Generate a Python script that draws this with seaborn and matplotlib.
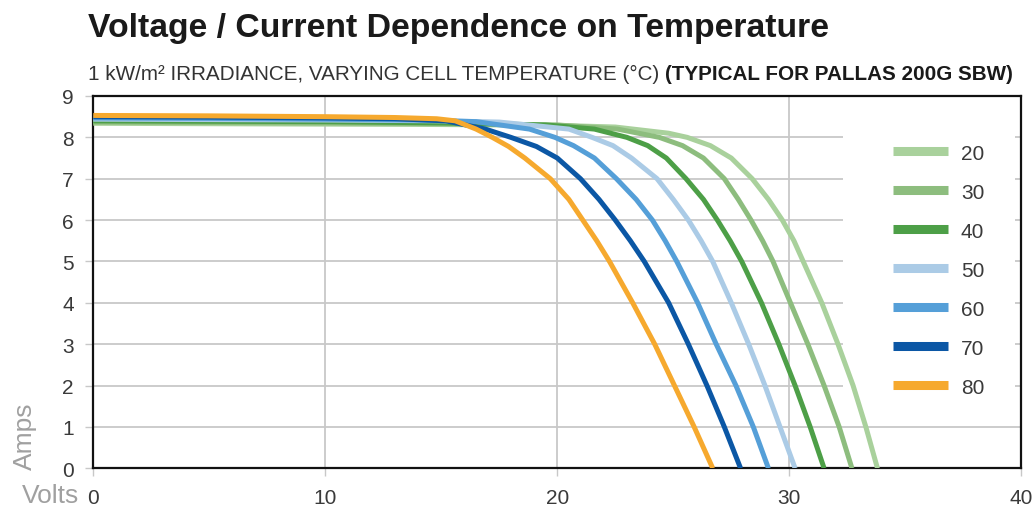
import matplotlib
matplotlib.use("Agg")
import matplotlib.pyplot as plt
import seaborn as sns
import pandas as pd
from matplotlib.patches import Rectangle
from matplotlib.lines import Line2D

# ---- data ----
temps = ["20", "30", "40", "50", "60", "70", "80"]

v20 = [0, 5, 10, 15, 20, 22.5, 24.8, 25.6, 26.6, 27.5, 28.4, 29.1, 29.7, 30.2, 30.6, 31.4, 32.1, 32.75, 33.3, 33.8]
i20 = [8.34, 8.33, 8.32, 8.31, 8.29, 8.25, 8.10, 8.0, 7.8, 7.5, 7.0, 6.5, 6.0, 5.5, 5.0, 4.0, 3.0, 2.0, 1.0, 0.0]

v30 = [0, 5, 10, 15, 20, 22.6, 24.4, 25.4, 26.3, 27.2, 27.8, 28.35, 28.85, 29.3, 30.05, 30.8, 31.5, 32.15, 32.7]
i30 = [8.37, 8.36, 8.35, 8.33, 8.30, 8.20, 8.0, 7.8, 7.5, 7.0, 6.5, 6.0, 5.5, 5.0, 4.0, 3.0, 2.0, 1.0, 0.0]

v40 = [0, 5, 10, 15, 19.5, 21.6, 23.0, 23.9, 24.7, 25.55, 26.3, 26.9, 27.45, 27.95, 28.8, 29.55, 30.25, 30.9, 31.5]
i40 = [8.40, 8.39, 8.38, 8.35, 8.30, 8.20, 8.0, 7.8, 7.5, 7.0, 6.5, 6.0, 5.5, 5.0, 4.0, 3.0, 2.0, 1.0, 0.0]

v50 = [0, 5, 10, 15, 17.5, 20.5, 21.5, 22.4, 23.2, 24.3, 25.0, 25.65, 26.2, 26.7, 27.5, 28.25, 28.95, 29.6, 30.25]
i50 = [8.44, 8.43, 8.42, 8.40, 8.37, 8.20, 8.0, 7.8, 7.5, 7.0, 6.5, 6.0, 5.5, 5.0, 4.0, 3.0, 2.0, 1.0, 0.0]

v60 = [0, 5, 10, 14, 16.5, 18.8, 19.9, 20.7, 21.6, 22.55, 23.4, 24.1, 24.65, 25.15, 26.05, 26.85, 27.7, 28.45, 29.1]
i60 = [8.47, 8.46, 8.44, 8.42, 8.38, 8.20, 8.0, 7.8, 7.5, 7.0, 6.5, 6.0, 5.5, 5.0, 4.0, 3.0, 2.0, 1.0, 0.0]

v70 = [0, 5, 10, 13, 15.2, 16.9, 18.0, 19.1, 20.0, 21.0, 21.8, 22.5, 23.15, 23.75, 24.8, 25.65, 26.45, 27.2, 27.9]
i70 = [8.50, 8.49, 8.47, 8.45, 8.40, 8.20, 8.0, 7.78, 7.5, 7.0, 6.5, 6.0, 5.5, 5.0, 4.0, 3.0, 2.0, 1.0, 0.0]

v80 = [0, 5, 10, 13, 14.8, 15.6, 16.5, 17.2, 17.9, 18.6, 19.7, 20.5, 21.1, 21.7, 22.25, 22.75, 23.25, 24.2, 25.05, 25.9, 26.7]
i80 = [8.53, 8.52, 8.50, 8.48, 8.45, 8.40, 8.20, 8.0, 7.78, 7.5, 7.0, 6.5, 6.0, 5.5, 5.0, 4.5, 4.0, 3.0, 2.0, 1.0, 0.0]

colors = ["#a9d19c", "#8dbd7e", "#4d9f47", "#abcbe6", "#559fd8", "#0b57a5", "#f6a92e"]

xticks = [0, 10, 20, 30, 40]
yticks = [0, 1, 2, 3, 4, 5, 6, 7, 8, 9]

title = "Voltage / Current Dependence on Temperature"
sub_norm = "1 kW/m² IRRADIANCE, VARYING CELL TEMPERATURE (°C) "
sub_bold = "(TYPICAL FOR PALLAS 200G SBW)"

# ---- build long frame ----
series = [(v20, i20), (v30, i30), (v40, i40), (v50, i50), (v60, i60), (v70, i70), (v80, i80)]
rows = []
for t, (vs, cs) in zip(temps, series):
    for v, c in zip(vs, cs):
        rows.append({"Temp": t, "Volts": v, "Amps": c})
df = pd.DataFrame(rows)

sns.set_theme(style="white")
plt.rcParams["font.family"] = ["Liberation Sans", "DejaVu Sans"]

W, H = 1032, 510
fig = plt.figure(figsize=(W / 100, H / 100), dpi=100)
L, R, T, B = 93.3, 1021.3, 97, 469.3
ax = fig.add_axes([L / W, 1 - B / H, (R - L) / W, (B - T) / H])

palette = dict(zip(temps, colors))
sns.lineplot(data=df, x="Volts", y="Amps", hue="Temp", hue_order=temps, palette=palette,
             sort=False, estimator=None, units="Temp", linewidth=3.6, ax=ax, legend=False,
             zorder=3)
for ln in ax.get_lines():
    ln.set_solid_joinstyle("round")
    ln.set_solid_capstyle("butt")

ax.set_xlim(0, 40)
ax.set_ylim(0, 9)
ax.set_xticks(xticks)
ax.set_yticks(yticks)
ax.set_xlabel("")
ax.set_ylabel("")
ax.grid(True, color="#c8c8c8", linewidth=1.3, zorder=0)
ax.set_axisbelow(True)
for s in ax.spines.values():
    s.set_color("#111111")
    s.set_linewidth(1.6)
ax.tick_params(axis="both", which="both", length=6, width=1, color="#c8c8c8",
               labelsize=15, labelcolor="#3a3a3a", pad=8, bottom=True, left=True)

# white panel behind legend
ax.add_patch(Rectangle((0.808, 0.175), 0.185, 0.82, transform=ax.transAxes,
                       facecolor="white", edgecolor="none", zorder=1))

handles = [Line2D([], [], color=c, linewidth=6.5, solid_capstyle="butt") for c in colors]
ax.legend(handles, temps, loc="upper left", bbox_to_anchor=(0.862, 0.872), frameon=False,
          fontsize=15, handlelength=2.65, handletextpad=0.6, labelspacing=0.96,
          borderpad=0, borderaxespad=0, labelcolor="#3a3a3a")

fig.text(88 / W, 1 - 29 / H, title, fontsize=24.3, fontweight="bold", color="#1a1a1a",
         ha="left", va="center")
t1 = fig.text(88 / W, 1 - 74 / H, sub_norm, fontsize=14.9, color="#333333", ha="left",
              va="center")
fig.canvas.draw()
bb = t1.get_window_extent()
fig.text(bb.x1 / W, 1 - 74 / H, sub_bold, fontsize=14.9, fontweight="bold", color="#1a1a1a",
         ha="left", va="center")

fig.text(79 / W, 1 - 496 / H, "Volts", fontsize=19, color="#a0a0a0", ha="right", va="center")
fig.text(25 / W, 1 - 436 / H, "Amps", fontsize=19, color="#a0a0a0", ha="center", va="center",
         rotation=90)

fig.savefig("out.png", dpi=100)
